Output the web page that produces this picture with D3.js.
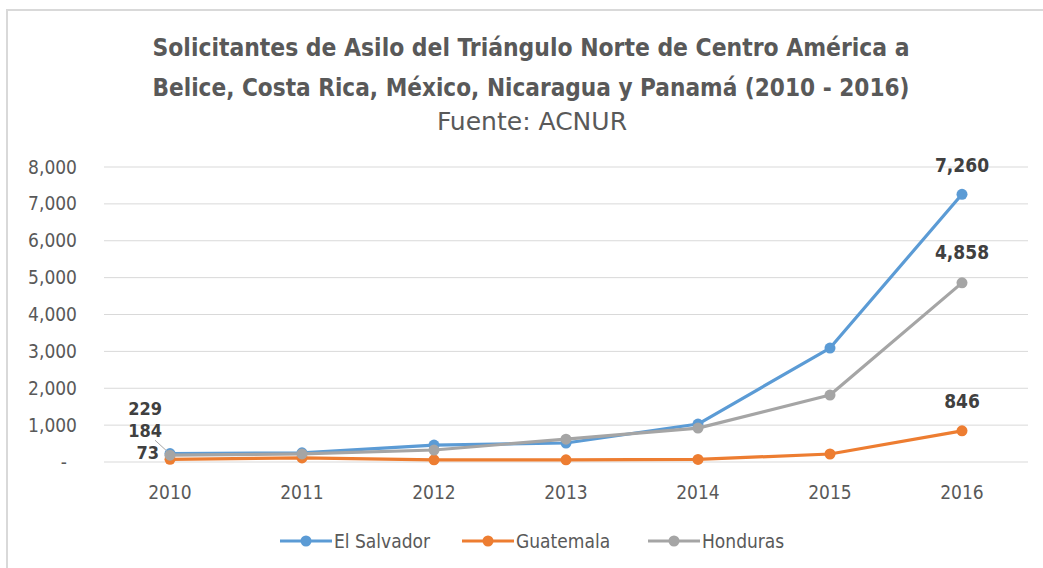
<!DOCTYPE html>
<html>
<head>
<meta charset="utf-8">
<script src="https://cdn.jsdelivr.net/npm/d3@7"></script>
<style>
  body { margin:0; background:#fff; }
  svg { display:block; font-family:"DejaVu Sans Condensed",sans-serif; }
</style>
</head>
<body>
<svg id="chart" width="1043" height="568"></svg>
<script>
// data
var years = ["2010","2011","2012","2013","2014","2015","2016"];
var elSalvador = [229, 250, 460, 515, 1030, 3090, 7260];
var guatemala  = [73, 110, 60, 60, 70, 217, 846];
var honduras   = [184, 220, 325, 620, 920, 1815, 4858];
var seriesNames = ["El Salvador","Guatemala","Honduras"];
var seriesColors = ["#5b9bd5","#ed7d31","#a5a5a5"];
var yTicks = [0,1000,2000,3000,4000,5000,6000,7000,8000];

var svg = d3.select("#chart"),
    margin = {left:104, right:15, top:167, bottom:106},
    width = 1043 - margin.left - margin.right,
    height = 568 - margin.top - margin.bottom;

// chart frame
svg.append("rect").attr("x",7).attr("y",10).attr("width",1043).attr("height",600)
  .attr("fill","none").attr("stroke","#d9d9d9").attr("stroke-width",2);

// titles
var title = svg.append("g").attr("fill","#595959").attr("text-anchor","middle");
title.append("text").attr("x",531).attr("y",56).attr("font-size",25).attr("font-weight","bold")
  .attr("textLength",757).attr("lengthAdjust","spacingAndGlyphs")
  .text("Solicitantes de Asilo del Triángulo Norte de Centro América a");
title.append("text").attr("x",531).attr("y",96).attr("font-size",25).attr("font-weight","bold")
  .attr("textLength",757).attr("lengthAdjust","spacingAndGlyphs")
  .text("Belice, Costa Rica, México, Nicaragua y Panamá (2010 - 2016)");
title.append("text").attr("x",532).attr("y",130).attr("font-size",25)
  .attr("textLength",190).attr("lengthAdjust","spacingAndGlyphs")
  .text("Fuente: ACNUR");

var g = svg.append("g").attr("transform","translate("+margin.left+","+margin.top+")");

var x = d3.scaleBand().domain(years).range([0,width]);
var y = d3.scaleLinear().domain([0,8000]).range([height,0]);

// gridlines
g.append("g").selectAll("line").data(yTicks).enter().append("line")
  .attr("x1",0).attr("x2",width)
  .attr("y1",function(d){return y(d);}).attr("y2",function(d){return y(d);})
  .attr("stroke","#d9d9d9").attr("stroke-width",1);

// y axis
var yAxis = g.append("g").attr("transform","translate(-24,0)")
  .call(d3.axisLeft(y).tickValues(yTicks).tickSize(0)
    .tickFormat(function(d){ return d===0 ? "-" : d3.format(",")(d); }));
yAxis.select(".domain").remove();
yAxis.selectAll("text").attr("fill","#595959").attr("font-size",19)
  .attr("font-family","'DejaVu Sans Condensed',sans-serif")
  .attr("dx", function(d){ return d===0 ? -10 : 0; });

// x axis
var xAxis = g.append("g").attr("transform","translate(0,"+(height+20)+")")
  .call(d3.axisBottom(x).tickSize(0));
xAxis.select(".domain").remove();
xAxis.selectAll("text").attr("fill","#595959").attr("font-size",19)
  .attr("font-family","'DejaVu Sans Condensed',sans-serif");

var series = [elSalvador, guatemala, honduras].map(function(vals,i){
  return {name:seriesNames[i], color:seriesColors[i],
    values: vals.map(function(v,j){ return {year:years[j], value:v}; })};
});

var line = d3.line()
  .x(function(d){ return x(d.year)+x.bandwidth()/2; })
  .y(function(d){ return y(d.value); });

var sg = g.selectAll(".series").data(series).enter().append("g").attr("class","series");
sg.append("path").attr("d",function(d){return line(d.values);})
  .attr("fill","none").attr("stroke",function(d){return d.color;})
  .attr("stroke-width",3.2).attr("stroke-linejoin","round");
sg.selectAll("circle").data(function(d){ return d.values.map(function(v){ v.color=d.color; return v; }); })
  .enter().append("circle")
  .attr("cx",function(d){ return x(d.year)+x.bandwidth()/2; })
  .attr("cy",function(d){ return y(d.value); })
  .attr("r",5.5).attr("fill",function(d){return d.color;});

// data labels (first and last points), offsets placed by hand like the original
var labelOffsets = [
  {first:[-8,-39], last:[0,-22]},
  {first:[-11,0], last:[0,-23]},
  {first:[-8,-18], last:[0,-24]}
];
var fmt = d3.format(",");
series.forEach(function(s,i){
  [0, s.values.length-1].forEach(function(k){
    var d = s.values[k];
    var off = k===0 ? labelOffsets[i].first : labelOffsets[i].last;
    var cx = x(d.year)+x.bandwidth()/2, cy = y(d.value);
    g.append("text").attr("x",cx+off[0]).attr("y",cy+off[1])
      .attr("text-anchor", k===0 ? "end" : "middle")
      .attr("fill","#404040").attr("font-size",k===0 ? 18 : 19).attr("font-weight","bold")
      .text(fmt(d.value));
  });
});
// leader line from the 184 label
var hx = x(years[0])+x.bandwidth()/2, hy = y(honduras[0]);
g.append("line").attr("x1",hx-15).attr("y1",hy-15).attr("x2",hx-3).attr("y2",hy-4)
  .attr("stroke","#a6a6a6").attr("stroke-width",1);

// legend
var legend = svg.append("g").attr("transform","translate(0,541)");
var lx = [280, 462, 648];
seriesNames.forEach(function(n,i){
  var it = legend.append("g").attr("transform","translate("+lx[i]+",0)");
  it.append("line").attr("x1",0).attr("x2",52).attr("stroke",seriesColors[i]).attr("stroke-width",3.2);
  it.append("circle").attr("cx",26).attr("r",5.5).attr("fill",seriesColors[i]);
  it.append("text").attr("x",54).attr("y",7).attr("fill","#595959").attr("font-size",19).text(n);
});
</script>
</body>
</html>
